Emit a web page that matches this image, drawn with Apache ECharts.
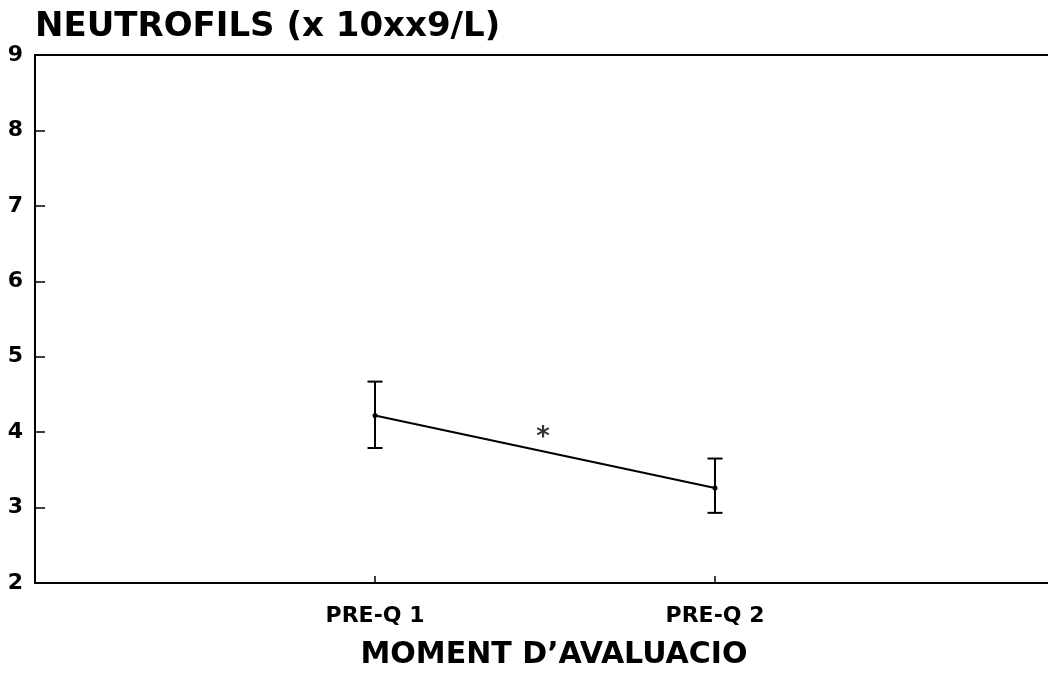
<!DOCTYPE html>
<html>
<head>
<meta charset="utf-8">
<script src="https://cdn.jsdelivr.net/npm/echarts@6/dist/echarts.min.js"></script>
<style>html,body{margin:0;padding:0;background:#fff}#c{width:1048px;height:675px}</style>
</head>
<body>
<div id="c"></div>
<script>
const categories = ['PRE-Q 1', 'PRE-Q 2'];
const xPositions = [1, 2];
const means = [4.22, 3.26];
const upper = [4.67, 3.65];
const lower = [3.79, 2.93];
const starPoint = [1.5, 4.0];
const yTicks = [2, 3, 4, 5, 6, 7, 8, 9];

const FONT = 'DejaVu Sans';
const chart = echarts.init(document.getElementById('c'), null, {renderer: 'canvas'});

const lineData = xPositions.map((x, i) => [x, means[i]]);
const errData = xPositions.map((x, i) => [x, lower[i], upper[i]]);

chart.setOption({
  animation: false,
  backgroundColor: '#fff',
  title: {
    text: 'NEUTROFILS (x 10xx9/L)',
    left: 30, top: 5,
    textStyle: {fontFamily: FONT, fontWeight: 'bold', fontSize: 34, color: '#000'}
  },
  grid: {left: 35, top: 55, width: 1020, height: 528, containLabel: false, outerBoundsMode: 'none'},
  xAxis: [{
    type: 'value', min: 0, max: 3, interval: 1,
    name: 'MOMENT D\u2019AVALUACIO', nameLocation: 'middle', nameGap: 57,
    nameTextStyle: {fontFamily: FONT, fontWeight: 'bold', fontSize: 30, color: '#000', padding: [0, 0, 0, 18]},
    axisLine: {show: true, onZero: false, lineStyle: {color: '#000', width: 2}},
    axisTick: {show: true, inside: true, length: 7, lineStyle: {color: '#000', width: 1.5}},
    axisLabel: {
      fontFamily: FONT, fontWeight: 'bold', fontSize: 22, color: '#000', margin: 22,
      formatter: v => { const i = xPositions.indexOf(v); return i >= 0 ? categories[i] : ''; }
    },
    splitLine: {show: false}
  }, {
    type: 'value', position: 'top', min: 0, max: 3,
    axisLine: {show: true, lineStyle: {color: '#000', width: 2}},
    axisTick: {show: false}, axisLabel: {show: false}, splitLine: {show: false}
  }],
  yAxis: {
    type: 'value', min: yTicks[0], max: yTicks[yTicks.length - 1], interval: 1,
    axisLine: {show: true, lineStyle: {color: '#000', width: 2}},
    axisTick: {show: true, inside: true, length: 10, lineStyle: {color: '#000', width: 1.5}},
    axisLabel: {fontFamily: FONT, fontWeight: 'bold', fontSize: 22, color: '#000', margin: 12},
    splitLine: {show: false}
  },
  series: [{
    type: 'line',
    data: lineData,
    symbol: 'circle', symbolSize: 5,
    itemStyle: {color: '#000'},
    lineStyle: {color: '#000', width: 2.2},
    z: 3
  }, {
    type: 'custom',
    data: errData,
    renderItem: function (params, api) {
      const x = api.value(0);
      const lo = api.coord([x, api.value(1)]);
      const hi = api.coord([x, api.value(2)]);
      const hw = 7.5;
      const st = {stroke: '#000', lineWidth: 2};
      return {
        type: 'group',
        children: [
          {type: 'line', shape: {x1: lo[0], y1: lo[1], x2: hi[0], y2: hi[1]}, style: st},
          {type: 'line', shape: {x1: hi[0] - hw, y1: hi[1], x2: hi[0] + hw, y2: hi[1]}, style: st},
          {type: 'line', shape: {x1: lo[0] - hw, y1: lo[1], x2: lo[0] + hw, y2: lo[1]}, style: st}
        ]
      };
    },
    z: 2
  }, {
    type: 'scatter',
    data: [starPoint],
    symbolSize: 0,
    label: {
      show: true, position: 'inside', formatter: '*', offset: [-2, 6],
      fontFamily: FONT, fontWeight: 'bold', fontSize: 26, color: '#000'
    }
  }]
});
</script>
</body>
</html>
